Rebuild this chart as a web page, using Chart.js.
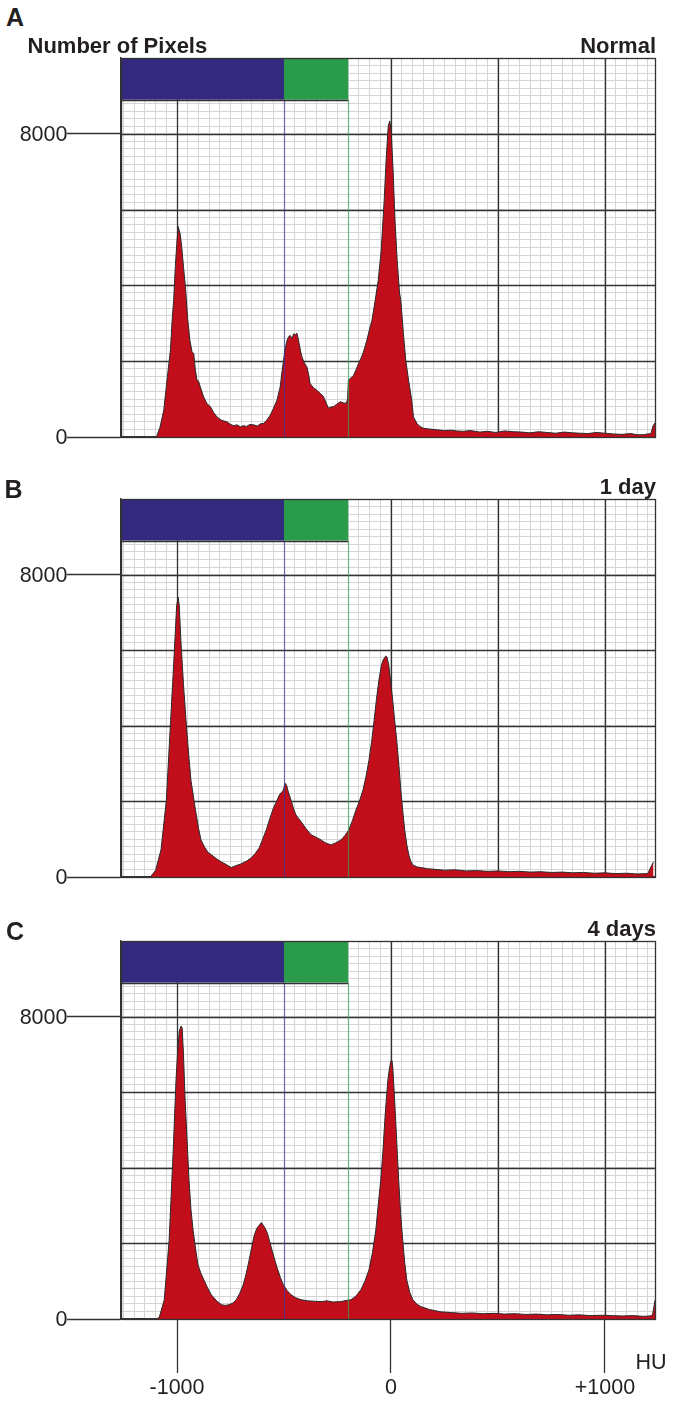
<!DOCTYPE html>
<html><head><meta charset="utf-8">
<script src="https://cdn.jsdelivr.net/npm/chart.js@4.4.1/dist/chart.umd.min.js"></script>
<style>
html,body{margin:0;padding:0;background:#fff;}
body{width:673px;height:1401px;position:relative;overflow:hidden;font-family:"Liberation Sans",Arial,Helvetica,sans-serif;color:#231f20;}
.t{position:absolute;white-space:nowrap;line-height:1;z-index:2;}
canvas{position:absolute;left:0;}
</style></head><body>
<canvas id="cA" width="673" height="399" style="top:48px"></canvas>
<canvas id="cB" width="673" height="398" style="top:489px"></canvas>
<canvas id="cC" width="673" height="448" style="top:931px"></canvas>
<script>
// ---------- DATA ----------
const HU_A = [-1110,-1100,-1094,-1080,-1062,-1047,-1031,-1023,-1016,-1008,-1000,-994,-990,-985,-978,-970,-960,-950,-940,-930,-922,-915,-907,-900,-891,-876,-860,-844,-830,-813,-795,-780,-766,-750,-735,-720,-704,-690,-675,-660,-642,-625,-610,-595,-580,-564,-550,-533,-518,-510,-502,-494,-486,-478,-471,-463,-455,-448,-440,-434,-429,-422,-416,-405,-393,-385,-378,-362,-346,-330,-315,-303,-292,-280,-269,-255,-237,-222,-209,-203,-199,-187,-175,-163,-152,-140,-129,-113,-100,-89,-74,-60,-46,-32,-23,-13,-6,1,10,19,29,40,46,58,69,82,97,105,121,135,152,180,214,250,280,307,340,370,416,450,490,530,572,610,650,690,728,770,810,850,883,920,960,1000,1039,1080,1120,1150,1179,1200,1215,1225,1234];
const COUNT_A = [0,0,40,250,710,1500,2290,3080,3600,4500,5200,5550,5450,5350,5000,4500,3900,3100,2550,2250,2200,1800,1500,1480,1320,1060,880,800,650,530,450,420,400,330,300,320,270,300,280,330,320,290,350,360,450,580,750,970,1320,1700,2030,2350,2550,2650,2680,2600,2720,2700,2740,2600,2460,2250,2110,1950,1850,1650,1410,1300,1230,1150,1060,900,760,790,800,860,930,900,890,1000,1500,1560,1630,1780,1940,2080,2240,2550,2850,3080,3600,4120,4910,6230,7280,8200,8340,8070,7020,5700,4650,3800,3600,2730,2030,1500,970,530,360,280,230,210,190,170,180,160,150,170,130,150,120,160,140,130,110,140,120,100,130,110,100,90,120,100,80,70,90,60,60,80,90,300,370];

const HU_B = [-1125,-1100,-1075,-1050,-1030,-1015,-1002,-995,-990,-982,-970,-958,-945,-935,-920,-910,-900,-888,-870,-855,-840,-815,-793,-770,-747,-725,-700,-675,-653,-635,-616,-600,-583,-566,-550,-535,-522,-510,-503,-495,-488,-480,-467,-455,-444,-432,-420,-400,-374,-350,-327,-305,-280,-260,-234,-215,-197,-180,-164,-148,-131,-117,-103,-90,-79,-68,-57,-45,-38,-30,-24,-18,-10,0,8,18,27,37,46,55,64,74,83,92,102,120,139,170,210,250,300,350,400,450,500,550,600,650,700,750,800,850,900,950,1000,1050,1100,1150,1200,1218,1227,1234];
const COUNT_B = [0,180,720,2030,4140,5720,7170,7400,7200,6250,5100,4140,3200,2560,2000,1640,1300,980,780,650,590,480,400,330,250,300,350,420,510,620,770,1000,1250,1550,1820,2000,2170,2250,2300,2480,2430,2250,2030,1800,1640,1550,1460,1300,1120,1050,980,900,850,900,980,1100,1250,1500,1770,2000,2300,2650,3090,3600,4140,4700,5190,5600,5720,5800,5850,5800,5590,5100,4670,4100,3610,2950,2300,1750,1250,850,590,420,320,270,250,220,200,180,190,160,170,150,160,140,150,130,140,120,130,110,120,100,110,90,100,80,90,300,400];

const HU_C = [-1095,-1083,-1060,-1037,-1018,-1005,-1000,-990,-982,-976,-970,-962,-952,-944,-935,-925,-912,-902,-888,-874,-857,-840,-815,-793,-775,-756,-740,-723,-707,-691,-677,-663,-651,-639,-627,-616,-606,-597,-588,-579,-567,-556,-544,-532,-517,-503,-485,-467,-445,-420,-390,-360,-327,-300,-270,-234,-210,-187,-165,-141,-122,-103,-87,-71,-60,-48,-38,-29,-22,-15,-8,-1,4,8,15,22,29,36,45,55,64,74,88,102,120,139,180,232,280,330,380,430,480,530,580,630,680,730,780,830,880,930,980,1030,1080,1130,1180,1210,1222,1230,1234];
const COUNT_C = [0,50,500,2080,4450,6300,6820,7600,7750,7700,7000,5770,4600,3670,2900,2350,1800,1430,1200,1030,820,640,480,380,360,380,420,510,680,900,1200,1560,1900,2220,2400,2480,2550,2480,2400,2290,2050,1820,1580,1350,1100,900,750,640,560,510,480,470,460,480,450,460,490,510,600,770,1000,1300,1750,2350,3000,3670,4400,5250,5800,6300,6600,6820,6850,6690,6000,5250,4450,3670,2800,2080,1500,1030,700,510,400,330,250,190,170,150,160,140,150,130,140,120,130,110,120,100,110,90,100,90,80,90,70,80,100,350,500];

const TITLES = ['Normal','1 day','4 days'];
const X_MIN = -1262, X_MAX = 1234, Y_MAX = 10000;
const X_GRID_STEP = 50, Y_GRID_STEP = 200;
const X_MAJOR = [-1000, 0, 500, 1000];
const Y_MAJOR = [2000, 4000, 6000, 8000];
const X_TICK_LABELS = [-1000, 0, 1000];
const Y_TICK_LABELS = [0, 8000];
const BLUE_RANGE = [X_MIN, -500];
const GREEN_RANGE = [-500, -200];
const BAR_Y = [8900, 10000];

const DARK = '#333333', MINOR = '#d5d5d5';
const RED = '#c20e1b', BLUE = '#33297f', GREEN = '#2a9a4b';

function gridValues(min, max, step){ const v=[]; for(let a=Math.ceil(min/step)*step; a<=max; a+=step) v.push(a); return v; }

const overlay = {
  id:'overlay',
  beforeDatasetsDraw(chart){
    // redraw major grid lines on top of the minor ones
    const {ctx, chartArea:a, scales:{x,y}} = chart;
    const P = v => Math.round(v)+0.5;
    ctx.save();
    ctx.strokeStyle = DARK; ctx.lineWidth = 1.3;
    ctx.beginPath();
    X_MAJOR.forEach(v => { const px = P(x.getPixelForValue(v)); ctx.moveTo(px, a.top); ctx.lineTo(px, a.bottom); });
    Y_MAJOR.forEach(v => { const py = P(y.getPixelForValue(v)); ctx.moveTo(a.left, py); ctx.lineTo(a.right, py); });
    ctx.stroke();
    ctx.restore();
  },
  afterDatasetsDraw(chart){
    const {ctx, chartArea:a, scales:{x,y}} = chart;
    const P = v => Math.round(v)+0.5;
    ctx.save();
    const yb = y.getPixelForValue(BAR_Y[0]), yt = y.getPixelForValue(BAR_Y[1]);
    const x0 = x.getPixelForValue(BLUE_RANGE[0]), x1 = x.getPixelForValue(BLUE_RANGE[1]), x2 = x.getPixelForValue(GREEN_RANGE[1]);
    ctx.fillStyle = BLUE; ctx.fillRect(x0, yt, x1-x0, yb-yt);
    ctx.fillStyle = GREEN; ctx.fillRect(x1, yt, x2-x1, yb-yt);
    const y0 = y.getPixelForValue(0);
    ctx.lineWidth = 1.2;
    ctx.globalAlpha = 0.7;
    ctx.strokeStyle = '#3a3596';
    ctx.beginPath(); ctx.moveTo(P(x1), yb); ctx.lineTo(P(x1), y0); ctx.stroke();
    ctx.strokeStyle = '#38a453';
    ctx.beginPath(); ctx.moveTo(P(x2), yb); ctx.lineTo(P(x2), y0); ctx.stroke();
    ctx.globalAlpha = 1;
    ctx.strokeStyle = DARK; ctx.lineWidth = 1.3;
    ctx.beginPath(); ctx.moveTo(x0, P(yb)); ctx.lineTo(x2, P(yb)); ctx.stroke();
    ctx.strokeRect(P(a.left), P(a.top), Math.round(a.right)-Math.round(a.left), Math.round(a.bottom)-Math.round(a.top));
    ctx.restore();
  }
};

function makeChart(id, hu, counts, withXTicks){
  const ctx = document.getElementById(id);
  return new Chart(ctx, {
    type:'line',
    data:{ datasets:[{
      data: hu.map((h,i)=>({x:h, y:counts[i]})),
      fill:'origin', backgroundColor: RED, borderColor:'#2a2a2a', borderWidth:1,
      pointRadius:0, tension:0
    }]},
    options:{
      responsive:false, animation:false, devicePixelRatio:1,
      layout:{padding:{top:10,right:18,left:0,bottom:0}},
      plugins:{legend:{display:false}, tooltip:{enabled:false}},
      scales:{
        x:{ type:'linear', min:X_MIN, max:X_MAX,
          afterBuildTicks: s => { s.ticks = gridValues(X_MIN, X_MAX, X_GRID_STEP).map(v=>({value:v})); },
          afterFit: s => { s.height = withXTicks ? 60 : 10; },
          ticks:{display:false},
          border:{display:true, color:DARK, width:1.3},
          grid:{
            drawTicks: withXTicks, tickLength: 54, tickWidth:1.3,
            tickColor: c => (c.tick && X_TICK_LABELS.includes(c.tick.value)) ? DARK : 'rgba(0,0,0,0)',
            color: MINOR, lineWidth: 1
          }
        },
        y:{ type:'linear', min:0, max:Y_MAX,
          afterBuildTicks: s => { s.ticks = gridValues(0, Y_MAX, Y_GRID_STEP).map(v=>({value:v})); },
          afterFit: s => { s.width = 121; },
          ticks:{display:false},
          border:{display:true, color:DARK, width:1.3},
          grid:{
            drawTicks:true, tickLength:54, tickWidth:1.3,
            tickColor: c => (c.tick && Y_TICK_LABELS.includes(c.tick.value)) ? DARK : 'rgba(0,0,0,0)',
            color: MINOR, lineWidth: 1
          }
        }
      }
    },
    plugins:[overlay]
  });
}

const charts = [
  makeChart('cA', HU_A, COUNT_A, false),
  makeChart('cB', HU_B, COUNT_B, false),
  makeChart('cC', HU_C, COUNT_C, true)
];

// ---------- TEXT ----------
function label(text, x, baseline, align, size, bold){
  const d = document.createElement('div');
  d.className = 't'; d.textContent = text;
  d.style.fontSize = size + 'px';
  d.style.fontWeight = bold ? '700' : '400';
  const top = baseline - (0.905*size - (0.117*size)/2);
  d.style.top = top + 'px';
  d.style.left = x + 'px';
  if (align === 'right') d.style.transform = 'translateX(-100%)';
  else if (align === 'center') d.style.transform = 'translateX(-50%)';
  document.body.appendChild(d);
}
label('A', 6, 26, 'left', 25, true);
label('Number of Pixels', 27.5, 53.3, 'left', 22, true);
label('B', 4.5, 498, 'left', 25, true);
label('C', 6, 940, 'left', 25, true);
charts.forEach((ch, i) => {
  const canvasTop = parseFloat(ch.canvas.style.top);
  const ys = ch.scales.y;
  const titleBase = canvasTop + ch.chartArea.top - 4.5;
  label(TITLES[i], 656, titleBase, 'right', 22, true);
  Y_TICK_LABELS.forEach(v => {
    label(String(v), 67.5, canvasTop + ys.getPixelForValue(v) + 8.5, 'right', 21.5, false);
  });
});
const chC = charts[2];
X_TICK_LABELS.forEach(v => {
  const txt = v > 0 ? '+' + v : String(v);
  label(txt, chC.scales.x.getPixelForValue(v), 1395, 'center', 21.5, false);
});
label('HU', 635.5, 1370, 'left', 21.5, false);
</script>
</body></html>
